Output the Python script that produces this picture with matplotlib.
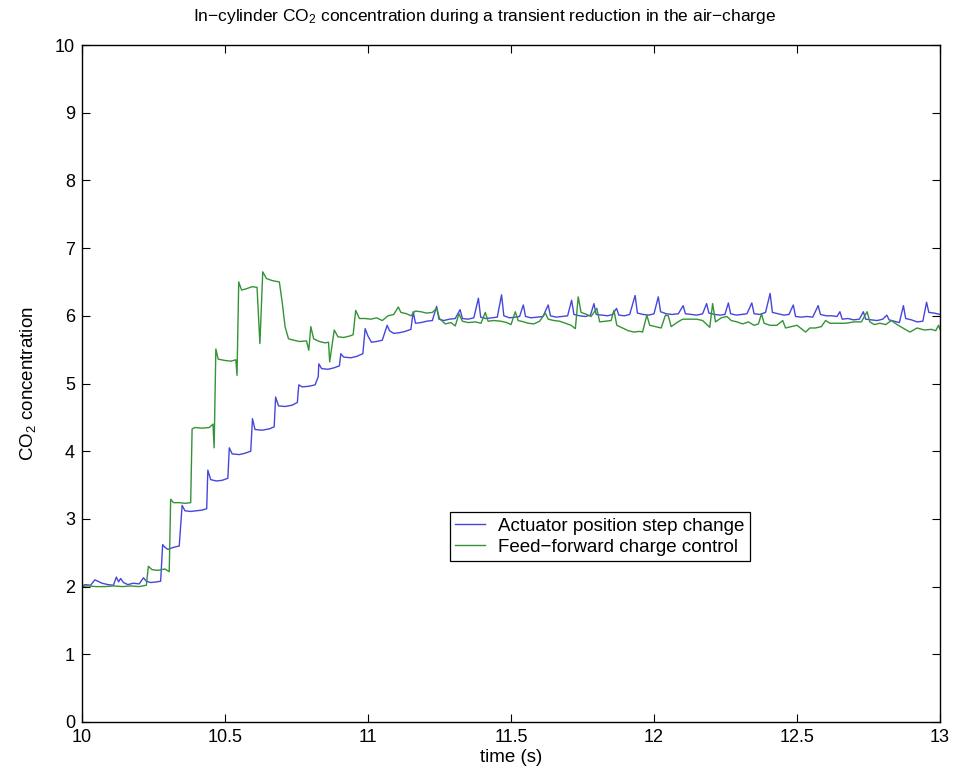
import matplotlib
matplotlib.use("Agg")
import matplotlib.pyplot as plt

plt.rcParams['font.family'] = ['Liberation Sans', 'DejaVu Sans']
plt.rcParams['mathtext.default'] = 'regular'

title = "In\u2212cylinder CO$_2$ concentration during a transient reduction in the air\u2212charge"
xlabel = "time (s)"
ylabel = "CO$_2$ concentration"
series_names = ["Actuator position step change", "Feed\u2212forward charge control"]
xticks = [10, 10.5, 11, 11.5, 12, 12.5, 13]
xtick_labels = ["10", "10.5", "11", "11.5", "12", "12.5", "13"]
yticks = [0, 1, 2, 3, 4, 5, 6, 7, 8, 9, 10]
ytick_labels = ["0", "1", "2", "3", "4", "5", "6", "7", "8", "9", "10"]

blue_t = [10.000, 10.010, 10.030, 10.045, 10.055, 10.070, 10.090, 10.110, 10.120, 10.128,
          10.135, 10.145, 10.160, 10.180, 10.200, 10.215, 10.225, 10.240, 10.262, 10.275,
          10.282, 10.290, 10.300, 10.320, 10.340, 10.350, 10.360, 10.380, 10.400, 10.420,
          10.436, 10.440, 10.450, 10.470, 10.490, 10.510, 10.515, 10.525, 10.550, 10.570,
          10.590, 10.596, 10.605, 10.630, 10.655, 10.672, 10.677, 10.687, 10.710, 10.735,
          10.753, 10.758, 10.770, 10.795, 10.815, 10.826, 10.828, 10.838, 10.860, 10.880,
          10.900, 10.905, 10.915, 10.940, 10.960, 10.982, 10.990, 11.000, 11.012, 11.030,
          11.050, 11.067, 11.075, 11.090, 11.110, 11.130, 11.150, 11.158, 11.166, 11.185,
          11.205, 11.225, 11.240, 11.248, 11.265, 11.285, 11.305, 11.322, 11.330, 11.350,
          11.370, 11.386, 11.394, 11.412, 11.432, 11.452, 11.467, 11.475, 11.495, 11.515,
          11.530, 11.543, 11.551, 11.570, 11.590, 11.612, 11.630, 11.638, 11.658, 11.678,
          11.698, 11.712, 11.720, 11.740, 11.760, 11.778, 11.790, 11.798, 11.818, 11.838,
          11.855, 11.869, 11.877, 11.897, 11.915, 11.934, 11.942, 11.962, 11.982, 12.000,
          12.015, 12.023, 12.043, 12.063, 12.085, 12.102, 12.110, 12.130, 12.150, 12.170,
          12.184, 12.192, 12.212, 12.232, 12.248, 12.260, 12.268, 12.288, 12.308, 12.325,
          12.342, 12.350, 12.370, 12.390, 12.406, 12.414, 12.434, 12.454, 12.472, 12.487,
          12.495, 12.515, 12.535, 12.555, 12.574, 12.582, 12.602, 12.622, 12.640, 12.650,
          12.658, 12.678, 12.698, 12.718, 12.732, 12.740, 12.760, 12.780, 12.800, 12.814,
          12.822, 12.840, 12.858, 12.872, 12.880, 12.900, 12.920, 12.940, 12.953, 12.961,
          12.980, 13.000]
blue_v = [2.00, 2.03, 2.02, 2.10, 2.08, 2.05, 2.03, 2.02, 2.14, 2.07,
          2.12, 2.06, 2.03, 2.05, 2.04, 2.13, 2.08, 2.06, 2.07, 2.08,
          2.62, 2.58, 2.55, 2.58, 2.60, 3.20, 3.12, 3.11, 3.12, 3.13,
          3.15, 3.72, 3.58, 3.56, 3.57, 3.60, 4.05, 3.96, 3.95, 3.97,
          4.00, 4.48, 4.32, 4.31, 4.33, 4.36, 4.80, 4.67, 4.66, 4.68,
          4.72, 4.98, 4.95, 4.96, 4.98, 5.10, 5.29, 5.22, 5.21, 5.23,
          5.26, 5.44, 5.39, 5.38, 5.40, 5.44, 5.81, 5.70, 5.61, 5.62,
          5.64, 5.86, 5.78, 5.74, 5.75, 5.77, 5.80, 6.06, 5.89, 5.90,
          5.92, 5.93, 6.14, 5.95, 5.93, 5.95, 5.96, 6.09, 5.96, 5.95,
          5.97, 6.26, 5.98, 5.96, 5.97, 5.98, 6.31, 6.00, 5.97, 5.98,
          5.99, 6.16, 5.99, 5.97, 5.98, 5.99, 6.16, 6.00, 5.98, 5.99,
          6.00, 6.23, 6.02, 6.00, 5.99, 6.01, 6.18, 6.02, 6.01, 6.00,
          6.02, 6.11, 6.01, 6.00, 6.02, 6.30, 6.04, 6.02, 6.01, 6.03,
          6.28, 6.06, 6.03, 6.02, 6.03, 6.15, 6.03, 6.02, 6.01, 6.03,
          6.18, 6.04, 6.02, 6.01, 6.02, 6.19, 6.03, 6.01, 6.02, 6.03,
          6.19, 6.03, 6.02, 6.05, 6.33, 6.05, 6.03, 6.01, 6.02, 6.16,
          5.99, 5.98, 5.99, 5.98, 6.15, 6.02, 6.00, 6.00, 5.99, 6.06,
          5.95, 5.96, 5.94, 5.95, 6.06, 5.95, 5.94, 5.93, 5.95, 6.01,
          5.94, 5.92, 5.90, 6.15, 5.96, 5.94, 5.91, 5.92, 6.20, 6.05,
          6.04, 6.02]

green_t = [10.000, 10.020, 10.050, 10.080, 10.110, 10.140, 10.170, 10.200, 10.225, 10.232,
           10.245, 10.265, 10.290, 10.305, 10.310, 10.320, 10.340, 10.360, 10.380, 10.385,
           10.395, 10.420, 10.445, 10.458, 10.462, 10.468, 10.476, 10.500, 10.520, 10.538,
           10.542, 10.548, 10.558, 10.575, 10.595, 10.612, 10.622, 10.632, 10.645, 10.665,
           10.690, 10.700, 10.710, 10.722, 10.740, 10.760, 10.785, 10.793, 10.800, 10.810,
           10.830, 10.850, 10.862, 10.866, 10.882, 10.895, 10.915, 10.935, 10.948, 10.957,
           10.970, 10.990, 11.010, 11.030, 11.050, 11.070, 11.090, 11.106, 11.115, 11.135,
           11.150, 11.165, 11.185, 11.205, 11.225, 11.240, 11.250, 11.270, 11.290, 11.305,
           11.318, 11.330, 11.350, 11.375, 11.395, 11.410, 11.420, 11.440, 11.465, 11.485,
           11.500, 11.515, 11.525, 11.545, 11.560, 11.580, 11.600, 11.620, 11.630, 11.650,
           11.670, 11.690, 11.710, 11.725, 11.735, 11.745, 11.765, 11.780, 11.790, 11.800,
           11.810, 11.830, 11.850, 11.860, 11.870, 11.890, 11.910, 11.930, 11.950, 11.960,
           11.975, 11.985, 12.005, 12.025, 12.040, 12.050, 12.060, 12.080, 12.100, 12.125,
           12.150, 12.170, 12.195, 12.205, 12.215, 12.235, 12.255, 12.270, 12.290, 12.310,
           12.330, 12.350, 12.365, 12.376, 12.385, 12.405, 12.430, 12.450, 12.460, 12.480,
           12.500, 12.530, 12.545, 12.565, 12.585, 12.600, 12.615, 12.640, 12.670, 12.700,
           12.725, 12.745, 12.755, 12.770, 12.790, 12.810, 12.830, 12.850, 12.870, 12.895,
           12.920, 12.945, 12.970, 12.985, 12.995, 13.000]
green_v = [2.00, 2.01, 2.00, 2.00, 2.01, 2.00, 2.01, 2.00, 2.02, 2.30,
           2.25, 2.24, 2.26, 2.22, 3.29, 3.24, 3.24, 3.23, 3.24, 4.33,
           4.35, 4.34, 4.35, 4.40, 4.05, 5.51, 5.36, 5.34, 5.33, 5.35,
           5.12, 6.50, 6.38, 6.40, 6.43, 6.42, 5.59, 6.65, 6.55, 6.52,
           6.50, 6.20, 5.84, 5.66, 5.64, 5.62, 5.63, 5.49, 5.84, 5.66,
           5.62, 5.60, 5.61, 5.32, 5.79, 5.69, 5.68, 5.70, 5.72, 6.08,
           5.96, 5.96, 5.95, 5.97, 5.93, 6.00, 6.02, 6.13, 6.05, 6.03,
           6.00, 6.07, 6.06, 6.04, 6.05, 6.11, 5.96, 5.88, 5.90, 5.85,
           6.03, 5.92, 5.90, 5.91, 5.89, 6.05, 5.92, 5.93, 5.92, 5.90,
           5.87, 6.06, 5.93, 5.91, 5.89, 5.88, 5.92, 6.04, 5.95, 5.93,
           5.92, 5.89, 5.86, 5.81, 6.28, 6.05, 6.02, 5.99, 6.05, 6.11,
           5.91, 5.92, 5.93, 6.08, 5.86, 5.82, 5.78, 5.76, 5.77, 5.76,
           6.01, 5.86, 5.84, 5.82, 6.01, 6.00, 5.84, 5.90, 5.95, 5.95,
           5.95, 5.93, 5.83, 6.18, 5.91, 5.97, 5.99, 5.93, 5.91, 5.88,
           5.91, 5.86, 5.88, 6.03, 5.89, 5.86, 5.86, 5.93, 5.82, 5.84,
           5.86, 5.76, 5.82, 5.82, 5.84, 5.93, 5.89, 5.89, 5.89, 5.91,
           5.91, 6.06, 5.91, 5.87, 5.89, 5.87, 5.93, 5.87, 5.82, 5.76,
           5.82, 5.79, 5.80, 5.78, 5.86, 5.80]

fig = plt.figure(figsize=(9.68, 7.75), dpi=100)
ax = fig.add_axes([82/968, 53/775, 858/968, 677/775])

ax.plot(blue_t, blue_v, color='#4646dc', lw=1.0, label=series_names[0])
ax.plot(green_t, green_v, color='#359335', lw=1.0, label=series_names[1])

ax.set_xlim(10, 13)
ax.set_ylim(0, 10)
ax.set_xticks(xticks)
ax.set_xticklabels(xtick_labels)
ax.set_yticks(yticks)
ax.set_yticklabels(ytick_labels)
ax.tick_params(direction='in', length=6, width=0.8, top=True, right=True,
               labelsize=13, pad=5, colors='black')
for s in ax.spines.values():
    s.set_linewidth(1.0)

fig.text(485/968, 1 - 17/775, title, ha='center', va='center', fontsize=12.5)
ax.set_xlabel(xlabel, fontsize=13.5, labelpad=2)
ax.set_ylabel(ylabel, fontsize=13.5, labelpad=12)

leg = ax.legend(loc='center', bbox_to_anchor=(0.6037, 0.274), fontsize=13.5,
                frameon=True, fancybox=False, edgecolor='black', framealpha=1,
                handlelength=1.6, borderpad=0.3, labelspacing=0.2, handletextpad=0.7,
                borderaxespad=0)
leg.get_frame().set_linewidth(0.9)

fig.savefig("out.png", dpi=100, facecolor='white')
